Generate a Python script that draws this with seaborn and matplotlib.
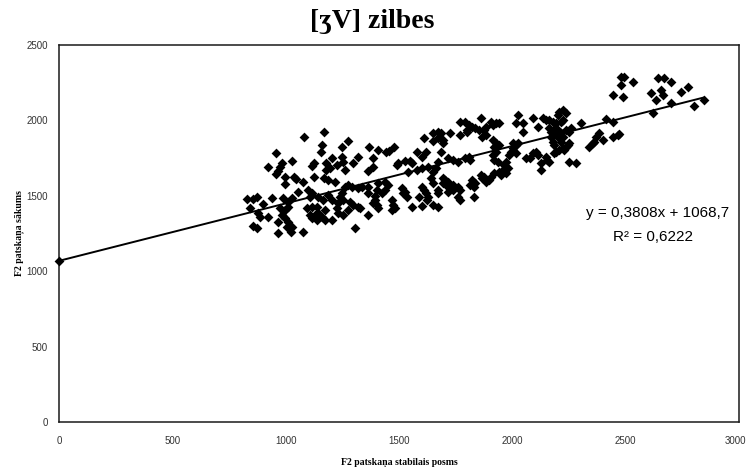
import numpy as np
import pandas as pd
import matplotlib
matplotlib.use("Agg")
import matplotlib.pyplot as plt
import matplotlib.transforms as mtransforms
import seaborn as sns

# F2 at the vowel's stable part (x) and at the vowel onset (y), Hz
stable_f2 = [
    0,
    1082, 1170, 1162, 1157, 958, 1029, 985, 976, 967, 923, 958, 1126, 1117, 1179, 1206,
    1197, 1179, 1038, 1047, 998, 998, 1078, 1126, 1170, 1188, 1056, 1100, 1117, 1109,
    830, 857, 875, 941, 989, 1029, 1011, 844, 901, 879, 888, 923, 976, 998, 1011, 985,
    998, 1011, 1007, 1029, 1025, 967, 857, 875, 967, 1078, 1095, 1117, 1140, 1109, 1131,
    1144, 1162, 1175, 1206, 1166, 1188, 1144, 1175, 1206, 1140, 1117,
    1277, 1250, 1369, 1409, 1444, 1455, 1480, 1612, 1648, 1652, 1581, 1617, 1603, 1383,
    1321, 1299, 1250, 1254, 1228, 1263, 1497, 1493, 1528, 1550, 1559, 1387, 1365, 1581,
    1603, 1630, 1648, 1541, 1219, 1263, 1277, 1294, 1321, 1338, 1365, 1409, 1440, 1453,
    1440, 1427, 1405, 1396, 1365, 1515, 1519, 1537, 1528, 1603, 1608, 1617, 1630, 1648,
    1639, 1250, 1241, 1254, 1232, 1228, 1285, 1299, 1321, 1330, 1396, 1405, 1387, 1409,
    1471, 1475, 1471, 1484, 1559, 1603, 1648, 1232, 1254, 1277, 1365, 1307, 1586, 1625,
    1771, 1793, 1807, 1802, 1824, 1837, 1851, 1860, 1873, 1882, 1904, 1913, 1926, 1939,
    1670, 1683, 1727, 1771, 1802, 1868, 1882, 1674, 1696, 1692, 1683, 1913, 1926, 1939,
    1917, 2027, 2014, 2049, 2045, 2089, 2001, 2014, 2027, 2005, 1992, 1983, 2014, 1926,
    1913, 1917, 1935, 1740, 1758, 1793, 1807, 1815, 1714, 1670, 1661, 1970, 1961, 1957,
    1970, 1948, 1939, 1979, 1917, 1904, 1895, 1882, 1868, 1860, 1873, 1824, 1837, 1829,
    1815, 2058, 2080, 2089, 1692, 1705, 1696, 1718, 1714, 1727, 1736, 1718, 1740, 1762,
    1771, 1670, 1674, 1758, 1771, 1829, 1670,
    2478, 2491, 2531, 2478, 2443, 2487, 2204, 2222, 2235, 2200, 2133, 2147, 2160, 2178,
    2191, 2213, 2222, 2301, 2412, 2443, 2111, 2160, 2169, 2182, 2200, 2191, 2213, 2235,
    2248, 2257, 2169, 2178, 2182, 2204, 2222, 2213, 2381, 2368, 2398, 2443, 2465, 2337,
    2354, 2359, 2248, 2244, 2235, 2222, 2226, 2204, 2191, 2182, 2103, 2111, 2147, 2155,
    2160, 2125, 2248, 2279, 2125, 2469,
    2641, 2668, 2699, 2610, 2633, 2655, 2663, 2743, 2774, 2699, 2619, 2800, 2845,
]
onset_f2 = [
    1070,
    1890, 1923, 1837, 1790, 1784, 1731, 1717, 1691, 1664, 1691, 1644, 1717, 1698, 1717, 1751,
    1684, 1671, 1625, 1611, 1625, 1578, 1591, 1625, 1618, 1605, 1525, 1538, 1518, 1492,
    1479, 1479, 1492, 1485, 1485, 1485, 1459, 1419, 1446, 1386, 1359, 1359, 1419, 1406, 1426, 1373,
    1353, 1326, 1293, 1293, 1260, 1326, 1300, 1286, 1253, 1260, 1419, 1426, 1426, 1373, 1373,
    1386, 1359, 1406, 1472, 1472, 1505, 1492, 1339, 1339, 1339, 1353,
    1863, 1824, 1824, 1804, 1790, 1795, 1824, 1883, 1863, 1916, 1790, 1790, 1757, 1751,
    1757, 1717, 1757, 1724, 1704, 1671, 1717, 1704, 1731, 1731, 1717, 1691, 1664, 1671,
    1684, 1691, 1658, 1658, 1591, 1558, 1572, 1558, 1552, 1558, 1558, 1585, 1591, 1572,
    1538, 1518, 1538, 1499, 1518, 1552, 1518, 1492, 1525, 1558, 1538, 1518, 1492, 1585,
    1618, 1518, 1492, 1472, 1452, 1419, 1459, 1439, 1426, 1419, 1472, 1439, 1452, 1419,
    1472, 1439, 1406, 1419, 1426, 1432, 1439, 1386, 1373, 1406, 1373, 1286, 1492, 1472,
    1989, 1989, 1969, 1936, 1956, 1950, 1936, 2016, 1936, 1956, 1989, 1969, 1983, 1983,
    1923, 1916, 1916, 1903, 1923, 1890, 1903, 1883, 1870, 1850, 1790, 1870, 1850, 1837,
    1824, 2036, 1983, 1983, 1923, 2016, 1850, 1837, 1850, 1817, 1790, 1770, 1784, 1790,
    1770, 1737, 1724, 1737, 1724, 1751, 1757, 1737, 1751, 1724, 1684, 1724, 1704, 1671,
    1651, 1638, 1658, 1684, 1651, 1625, 1605, 1591, 1618, 1638, 1625, 1605, 1585, 1558,
    1572, 1751, 1751, 1784, 1618, 1605, 1585, 1591, 1558, 1552, 1538, 1525, 1572, 1558,
    1538, 1518, 1538, 1492, 1472, 1492, 1426,
    2288, 2288, 2255, 2235, 2168, 2155, 2056, 2069, 2049, 2036, 2016, 2003, 2003, 1989,
    1983, 1989, 2003, 1983, 2009, 1989, 1956, 1950, 1923, 1936, 1936, 1903, 1916, 1936,
    1923, 1950, 1890, 1857, 1837, 1883, 1890, 1857, 1916, 1890, 1870, 1890, 1903, 1824,
    1850, 1857, 1850, 1837, 1824, 1817, 1804, 1804, 1790, 1784, 1790, 1770, 1757, 1737,
    1724, 1717, 1724, 1717, 1671, 1910,
    2281, 2281, 2255, 2182, 2135, 2201, 2168, 2188, 2221, 2115, 2049, 2095, 2135,
]

# Linear trend reported on the chart
slope = 0.3808
intercept = 1068.7
r_squared = 0.6222
trend_x = [0, 2845]

x_ticks = [0, 500, 1000, 1500, 2000, 2500, 3000]
y_ticks = [0, 500, 1000, 1500, 2000, 2500]

title = "[ʒV] zilbes"
x_label = "F2 patskaņa stabilais posms"
y_label = "F2 patskaņa sākums"

sns.set_theme(style="white")
plt.rcParams["font.family"] = ["Liberation Sans", "DejaVu Sans"]

df = pd.DataFrame({"stable": stable_f2, "onset": onset_f2})
trend = pd.DataFrame({"x": trend_x})
trend["y"] = slope * trend["x"] + intercept

fig = plt.figure(figsize=(7.48, 4.67), dpi=100)
ax = fig.add_axes([0.0789, 0.0964, 0.9091, 0.8072])

sns.scatterplot(data=df, x="stable", y="onset", marker="D", s=25,
                color="black", edgecolor="black", linewidth=0, ax=ax,
                zorder=3, clip_on=False)
sns.lineplot(data=trend, x="x", y="y", color="black", linewidth=1.4, ax=ax, zorder=2)

ax.set_xlim(0, 3000)
ax.set_ylim(0, 2500)
ax.set_xticks(x_ticks)
ax.set_yticks(y_ticks)
ax.tick_params(axis="both", length=0, labelsize=7, colors="#333333")
ax.tick_params(axis="x", pad=10)
ax.tick_params(axis="y", pad=8)
for sp in ax.spines.values():
    sp.set_visible(True)
    sp.set_color("#1a1a1a")
    sp.set_linewidth(1.1)

# keep the last x tick label inside the canvas
last = ax.get_xticklabels()[-1]
last.set_transform(last.get_transform() +
                   mtransforms.ScaledTranslation(-4 / 100, 0, fig.dpi_scale_trans))

serif = ["Liberation Serif", "DejaVu Serif"]
ax.set_xlabel(x_label, family=serif, fontweight="bold", fontsize=7,
              labelpad=8, color="black")
ax.set_ylabel(y_label, family=serif, fontweight="bold", fontsize=7,
              labelpad=1.5, color="black")
fig.text(0.497, 0.953, title, family=serif, fontweight="bold", fontsize=20,
         ha="center", va="center", color="black")

eq = f"y = {slope:.4f}x + {intercept:.1f}".replace(".", ",")
r2 = f"R² = {r_squared:.4f}".replace(".", ",")
ax.text(2639, 1386, eq, ha="center", va="center", fontsize=11, color="black")
ax.text(2619, 1227, r2, ha="center", va="center", fontsize=11, color="black")

fig.savefig("out.png", dpi=100)
